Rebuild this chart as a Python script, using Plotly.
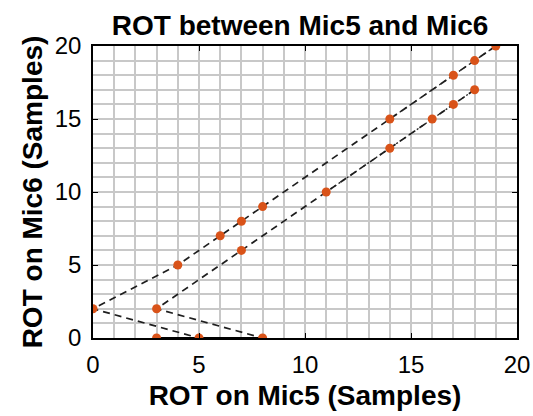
import plotly.graph_objects as go

# Paired ROT estimates (samples) for Mic5 / Mic6
upper_x = [19, 18, 17, 14, 8, 7, 6, 4, 0, 5, 8]
upper_y = [20, 19, 18, 15, 9, 8, 7, 5, 2, 0, 0]
lower_x = [18, 17, 16, 14, 11, 7, 3, 8]
lower_y = [17, 16, 15, 13, 10, 6, 2, 0]
dense_x = [11, 14, 16, 17, 18]
dense_y = [10, 13, 15, 16, 17]
dense2_x = [14, 17, 18, 19]
dense2_y = [15, 18, 19, 20]
base_x = [3, 5, 8]
base_y = [0, 0, 0]
pts_x = [0, 4, 6, 7, 8, 14, 17, 18, 19, 3, 7, 11, 14, 16, 17, 18, 3, 5, 8]
pts_y = [2, 5, 7, 8, 9, 15, 18, 19, 20, 2, 6, 10, 13, 15, 16, 17, 0, 0, 0]

line_color = "#1e1e1e"
marker_color = "#D95319"
font_family = "Liberation Sans, Arial, Helvetica"

fig = go.Figure()
fig.add_trace(go.Scatter(x=upper_x, y=upper_y, mode="lines",
                         line=dict(color=line_color, width=1.7, dash="7px,5px")))
fig.add_trace(go.Scatter(x=lower_x, y=lower_y, mode="lines",
                         line=dict(color=line_color, width=1.7, dash="7px,5px")))
fig.add_trace(go.Scatter(x=dense_x, y=dense_y, mode="lines",
                         line=dict(color=line_color, width=1.3, dash="2px,3px")))
fig.add_trace(go.Scatter(x=dense2_x, y=dense2_y, mode="lines",
                         line=dict(color=line_color, width=1.3, dash="2px,4px")))
fig.add_trace(go.Scatter(x=base_x, y=base_y, mode="lines",
                         line=dict(color="black", width=1.8)))
fig.add_trace(go.Scatter(x=pts_x, y=pts_y, mode="markers",
                         marker=dict(color=marker_color, size=9)))

axis_common = dict(
    range=[0, 20], dtick=5, tick0=0,
    showline=True, linecolor="black", linewidth=1.5, mirror="ticks",
    ticks="inside", ticklen=5, tickwidth=1.4, tickcolor="black",
    showgrid=True, gridcolor="#c8c8c8", gridwidth=1.6,
    minor=dict(dtick=1, showgrid=True, gridcolor="#c8c8c8", gridwidth=1.6),
    zeroline=False, automargin=False,
    tickfont=dict(family=font_family, size=24, color="black"),
)

fig.update_layout(
    width=533, height=416,
    margin=dict(l=93, r=16, t=46, b=78),
    paper_bgcolor="white", plot_bgcolor="white",
    showlegend=False,
    title=dict(text="<b>ROT between Mic5 and Mic6</b>", x=0.563, xanchor="center",
               y=0.94, yanchor="middle",
               font=dict(family=font_family, size=28, color="black")),
    xaxis=dict(**axis_common, ticklabelstandoff=4,
               title=dict(text="<b>ROT on Mic5 (Samples)</b>", standoff=9,
                          font=dict(family=font_family, size=28, color="black"))),
    yaxis=dict(**axis_common, ticklabelstandoff=5,
               title=dict(text="<b>ROT on Mic6 (Samples)</b>", standoff=4,
                          font=dict(family=font_family, size=28, color="black"))),
)

fig.write_html("out.html")
